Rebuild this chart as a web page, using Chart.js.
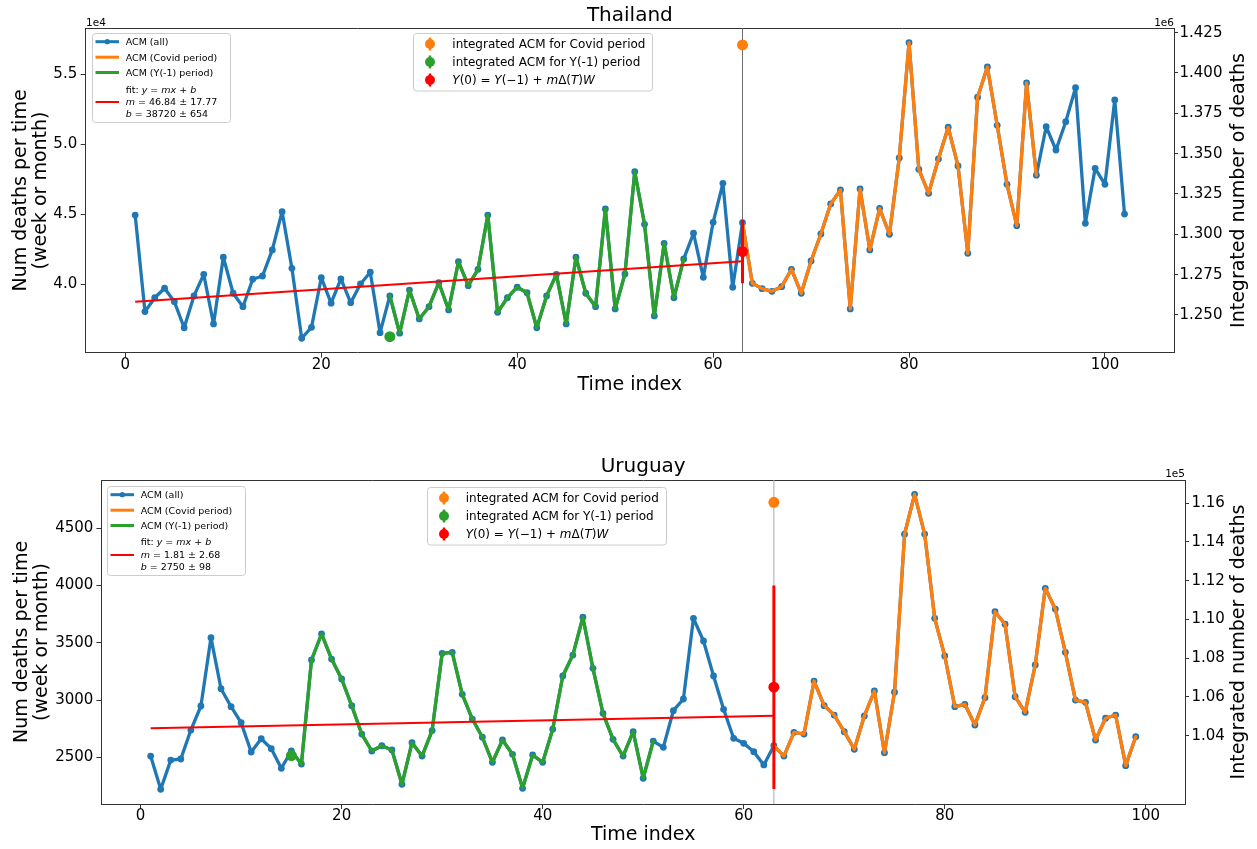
<!DOCTYPE html>
<html><head><meta charset="utf-8">
<script src="https://cdn.jsdelivr.net/npm/chart.js"></script>
<style>
html,body{margin:0;padding:0;background:#fff;}
body{width:1257px;height:849px;position:relative;overflow:hidden;font-family:"DejaVu Sans",sans-serif;}
canvas{position:absolute;left:0;}
.leg{position:absolute;z-index:5;}
.leg .t{position:absolute;white-space:nowrap;color:#000;}
.off{position:absolute;z-index:5;font-size:10.5px;line-height:12px;color:#000;white-space:nowrap;}
</style></head><body>
<canvas id="c1" width="1257" height="420" style="top:0px"></canvas>
<canvas id="c2" width="1257" height="429" style="top:420px"></canvas>
<script>
// ---------------- DATA ----------------
const xTicks = [0, 20, 40, 60, 80, 100];

// Thailand
const thaiTime = [1,2,3,4,5,6,7,8,9,10,11,12,13,14,15,16,17,18,19,20,21,22,23,24,25,26,27,28,29,30,31,32,33,34,35,36,37,38,39,40,41,42,43,44,45,46,47,48,49,50,51,52,53,54,55,56,57,58,59,60,61,62,63,64,65,66,67,68,69,70,71,72,73,74,75,76,77,78,79,80,81,82,83,84,85,86,87,88,89,90,91,92,93,94,95,96,97,98,99,100,101,102];
const thaiAcm = [44940,38050,39040,39720,38760,36900,39170,40710,37170,41930,39360,38400,40360,40590,42450,45180,41140,36150,36930,40470,38650,40380,38690,40020,40860,36550,39170,36510,39590,37530,38400,40110,38170,41610,39900,41070,44940,38000,39040,39790,39400,36900,39170,40710,37170,41930,39360,38400,45370,38240,40740,48030,44280,37740,42920,39040,41810,43640,40500,44420,47200,39790,44390,40070,39690,39500,39830,41070,39360,41660,43590,45730,46730,38240,46800,42450,45420,43570,49010,57230,48200,46490,48940,51200,48440,42210,53340,55500,51340,47130,44180,54360,47780,51240,49580,51600,54020,44350,48270,47130,53150,45010];
const thaiPriorPeriod = [27, 57];
const thaiCovidPeriod = [63, 93];
const thaiFitX = [1, 63];
const thaiFitY = [38760, 41650];
const thaiLeftTicks = [40000, 45000, 50000, 55000];
const thaiRightTicks = [1250000, 1275000, 1300000, 1325000, 1350000, 1375000, 1400000, 1425000];
const thaiIntCovid = [63, 1417400];
const thaiIntPrior = [27, 1236500];
const thaiY0 = [63, 1289300];
const thaiY0Err = [1269700, 1308900];

// Uruguay
const uruTime = [1,2,3,4,5,6,7,8,9,10,11,12,13,14,15,16,17,18,19,20,21,22,23,24,25,26,27,28,29,30,31,32,33,34,35,36,37,38,39,40,41,42,43,44,45,46,47,48,49,50,51,52,53,54,55,56,57,58,59,60,61,62,63,64,65,66,67,68,69,70,71,72,73,74,75,76,77,78,79,80,81,82,83,84,85,86,87,88,89,90,91,92,93,94,95,96,97,98,99];
const uruAcm = [2511,2220,2476,2485,2738,2948,3545,3099,2942,2802,2546,2662,2575,2404,2555,2441,3350,3577,3358,3184,2951,2703,2555,2601,2564,2264,2628,2511,2733,3408,3417,3050,2834,2675,2456,2651,2526,2229,2520,2456,2745,3210,3393,3723,3277,2884,2657,2511,2724,2317,2642,2587,2907,3009,3714,3516,3210,2919,2666,2622,2549,2433,2601,2511,2718,2703,3166,2951,2869,2724,2570,2861,3079,2540,3068,4448,4797,4450,3714,3385,2942,2963,2782,3021,3772,3662,3029,2893,3306,3976,3795,3417,3000,2980,2651,2841,2869,2427,2680];
const uruPriorPeriod = [15, 51];
const uruCovidPeriod = [63, 99];
const uruFitX = [1, 63];
const uruFitY = [2753, 2863];
const uruLeftTicks = [2500, 3000, 3500, 4000, 4500];
const uruRightTicks = [104000, 106000, 108000, 110000, 112000, 114000, 116000];
const uruIntCovid = [63, 116050];
const uruIntPrior = [15, 102970];
const uruIntPriorErr = [102710, 103230];
const uruY0 = [63, 106500];
const uruY0Err = [101250, 111750];

// ---------------- STYLE ----------------
const FONT = 'DejaVu Sans';
const BLUE = '#1f77b4', ORANGE = '#ff7f0e', GREEN = '#2ca02c', RED = '#ff0000';
Chart.defaults.font.family = FONT;
Chart.defaults.color = '#000';

function series(xs, ys) { return xs.map((x, i) => ({x: x, y: ys[i]})); }
function period(xs, ys, r) {
  const out = [];
  xs.forEach((x, i) => { if (x >= r[0] && x <= r[1]) out.push({x: x, y: ys[i]}); });
  return out;
}
function setTicks(vals) { return s => { s.ticks = vals.map(v => ({value: v})); }; }

// right-axis title drawn bottom-to-top (as matplotlib does)
const rightTitlePlugin = {
  id: 'rightTitle',
  afterDraw(chart, args, opts) {
    const s = chart.scales.y2;
    if (!s || !opts.text) return;
    const ctx = chart.ctx;
    ctx.save();
    ctx.translate(s.right - opts.offset, (s.top + s.bottom) / 2);
    ctx.rotate(-Math.PI / 2);
    ctx.font = `${opts.size}px "${FONT}"`;
    ctx.fillStyle = '#000';
    ctx.textAlign = 'center';
    ctx.textBaseline = 'middle';
    ctx.fillText(opts.text, 0, 0);
    ctx.restore();
  }
};

function makeChart(id, c) {
  const canvas = document.getElementById(id);
  const W = canvas.width, H = canvas.height;
  const tickFont = {family: FONT, size: 15, lineHeight: 1};
  const labFont = {family: FONT, size: 19, lineHeight: 1.05};
  const axisCol = '#333';
  const lineStyle = {borderJoinStyle: 'round', borderCapStyle: 'round'};
  const datasets = [
    Object.assign({label: 'ACM (all)', data: series(c.time, c.acm), yAxisID: 'y', borderColor: BLUE, backgroundColor: BLUE,
     borderWidth: 3.3, pointRadius: 3.4, pointBorderWidth: 0, pointBackgroundColor: BLUE, order: 10}, lineStyle),
    Object.assign({label: 'ACM (Y(-1) period)', data: period(c.time, c.acm, c.prior), yAxisID: 'y', borderColor: GREEN,
     borderWidth: 3.3, pointRadius: 0, order: 8}, lineStyle),
    Object.assign({label: 'ACM (Covid period)', data: period(c.time, c.acm, c.covid), yAxisID: 'y', borderColor: ORANGE,
     borderWidth: 3.3, pointRadius: 0, order: 8}, lineStyle),
    {label: 'fit', data: series(c.fitX, c.fitY), yAxisID: 'y', borderColor: RED, borderWidth: 2, pointRadius: 0, order: 7},
    {label: 'start', data: [{x: c.covid[0], y: c.yMin}, {x: c.covid[0], y: c.yMax}], yAxisID: 'y',
     borderColor: c.vlineColor, borderWidth: 1, pointRadius: 0, order: 11},
    {label: 'integrated ACM for Covid period', data: [{x: c.intCovid[0], y: c.intCovid[1]}], yAxisID: 'y2', showLine: false,
     pointRadius: 5.5, pointBorderWidth: 0, pointBackgroundColor: ORANGE, borderColor: ORANGE, backgroundColor: ORANGE, order: 3},
    {label: 'integrated ACM for Y(-1) period', data: [{x: c.intPrior[0], y: c.intPrior[1]}], yAxisID: 'y2', showLine: false,
     pointRadius: 5.5, pointBorderWidth: 0, pointBackgroundColor: GREEN, borderColor: GREEN, backgroundColor: GREEN, order: 3},
    {label: 'Y0 err', data: [{x: c.y0[0], y: c.y0Err[0]}, {x: c.y0[0], y: c.y0Err[1]}], yAxisID: 'y2',
     borderColor: RED, borderWidth: 3, pointRadius: 0, order: 2},
    {label: 'Y(0)', data: [{x: c.y0[0], y: c.y0[1]}], yAxisID: 'y2', showLine: false,
     pointRadius: 5.5, pointBorderWidth: 0, pointBackgroundColor: RED, borderColor: RED, backgroundColor: RED, order: 1}
  ];
  if (c.priorErr) {
    datasets.push({label: 'prior err', data: [{x: c.intPrior[0], y: c.priorErr[0]}, {x: c.intPrior[0], y: c.priorErr[1]}],
      yAxisID: 'y2', borderColor: GREEN, borderWidth: 2.5, pointRadius: 0, order: 3});
  }
  return new Chart(canvas, {
    type: 'line',
    data: {datasets: datasets},
    plugins: [rightTitlePlugin],
    options: {
      responsive: false, animation: false, events: [],
      layout: {padding: 0},
      elements: {line: {tension: 0}},
      plugins: {
        legend: {display: false}, tooltip: {enabled: false},
        title: {display: true, text: c.title, fullSize: false, color: '#000',
                font: {family: FONT, size: 20, weight: 'normal', lineHeight: 1.2},
                padding: {top: c.titlePadTop, bottom: c.plot.top - 24 - c.titlePadTop}},
        rightTitle: {text: 'Integrated number of deaths', size: 19, offset: 17.5}
      },
      scales: {
        x: {type: 'linear', position: 'bottom', min: c.xMin, max: c.xMax,
            afterBuildTicks: setTicks(xTicks),
            ticks: {font: tickFont, color: '#000', padding: c.xTickPad, maxRotation: 0, autoSkip: false, callback: v => String(v)},
            grid: {display: true, drawOnChartArea: false, drawTicks: true, tickLength: 5, color: axisCol, tickWidth: 1},
            border: {display: true, color: axisCol, width: 1},
            title: {display: true, text: 'Time index', font: labFont, color: '#000', padding: {top: 0, bottom: c.xTitlePad}},
            afterFit: s => { s.height = H - c.plot.bottom; }},
        xTop: {type: 'linear', position: 'top', min: c.xMin, max: c.xMax,
            ticks: {display: false},
            grid: {display: true, drawOnChartArea: false, drawTicks: false},
            border: {display: true, color: axisCol, width: 1},
            afterFit: s => { s.height = 0; }},
        y: {type: 'linear', position: 'left', min: c.yMin, max: c.yMax,
            afterBuildTicks: setTicks(c.leftTicks),
            ticks: {font: tickFont, color: '#000', padding: c.yTickPad, autoSkip: false, callback: c.leftFmt},
            grid: {display: true, drawOnChartArea: false, drawTicks: true, tickLength: 5, color: axisCol},
            border: {display: true, color: axisCol, width: 1},
            title: {display: true, text: ['Num deaths per time', '(week or month)'], font: labFont, color: '#000',
                    padding: {top: c.yTitlePad, bottom: 0}},
            afterFit: s => { s.width = c.plot.left; }},
        y2: {type: 'linear', position: 'right', min: c.y2Min, max: c.y2Max,
            afterBuildTicks: setTicks(c.rightTicks),
            ticks: {font: tickFont, color: '#000', padding: c.y2TickPad, autoSkip: false, callback: c.rightFmt},
            grid: {display: true, drawOnChartArea: false, drawTicks: true, tickLength: 4, color: axisCol},
            border: {display: true, color: axisCol, width: 1},
            title: {display: false},
            afterFit: s => { s.width = W - c.plot.right; }}
      }
    }
  });
}

makeChart('c1', {
  title: 'Thailand', time: thaiTime, acm: thaiAcm, prior: thaiPriorPeriod, covid: thaiCovidPeriod,
  fitX: thaiFitX, fitY: thaiFitY, intCovid: thaiIntCovid, intPrior: thaiIntPrior, y0: thaiY0, y0Err: thaiY0Err,
  xMin: -4.05, xMax: 107.05, yMin: 35120, yMax: 58260, y2Min: 1226600, y2Max: 1427700,
  leftTicks: thaiLeftTicks, rightTicks: thaiRightTicks,
  leftFmt: v => (v / 1e4).toFixed(1), rightFmt: v => (v / 1e6).toFixed(3),
  plot: {left: 85.7, right: 1174, top: 28.3, bottom: 352.7},
  titlePadTop: 3.5, xTickPad: 0, xTitlePad: 25, yTickPad: 3.5, y2TickPad: 1.5, yTitlePad: 11,
  vlineColor: '#6e6e6e'
});
makeChart('c2', {
  title: 'Uruguay', time: uruTime, acm: uruAcm, prior: uruPriorPeriod, covid: uruCovidPeriod,
  fitX: uruFitX, fitY: uruFitY, intCovid: uruIntCovid, intPrior: uruIntPrior, priorErr: uruIntPriorErr,
  y0: uruY0, y0Err: uruY0Err,
  xMin: -3.9, xMax: 103.9, yMin: 2092, yMax: 4922, y2Min: 100470, y2Max: 117200,
  leftTicks: uruLeftTicks, rightTicks: uruRightTicks,
  leftFmt: v => String(v), rightFmt: v => (v / 1e5).toFixed(2),
  plot: {left: 101.4, right: 1185, top: 60, bottom: 384},
  titlePadTop: 35, xTickPad: 0, xTitlePad: 4, yTickPad: 3, y2TickPad: 2.5, yTitlePad: 12.5,
  vlineColor: '#a8a8a8'
});

// ---------------- LEGENDS (HTML) ----------------
const NS = 'http://www.w3.org/2000/svg';
function el(tag, attrs, parent) {
  const e = document.createElementNS(NS, tag);
  for (const k in attrs) e.setAttribute(k, attrs[k]);
  parent.appendChild(e); return e;
}
function legendBox(spec) {
  const d = document.createElement('div');
  d.className = 'leg';
  d.style.cssText = `left:${spec.left}px;top:${spec.top}px;width:${spec.w}px;height:${spec.h}px;font-size:${spec.fs}px;`;
  const svg = el('svg', {width: spec.w, height: spec.h}, d);
  svg.style.cssText = 'position:absolute;left:0;top:0;';
  el('rect', {x: 0.5, y: 0.5, width: spec.w - 1, height: spec.h - 1, rx: 3, ry: 3,
              fill: '#fff', 'fill-opacity': 0.8, stroke: '#cccccc', 'stroke-width': 1}, svg);
  spec.items.forEach(it => {
    if (it.kind === 'line' || it.kind === 'linemarker') {
      el('line', {x1: spec.x0, x2: spec.x1, y1: it.cy, y2: it.cy, stroke: it.color, 'stroke-width': it.lw || 3}, svg);
      if (it.kind === 'linemarker') el('circle', {cx: (spec.x0 + spec.x1) / 2, cy: it.cy, r: 2.6, fill: it.color}, svg);
    } else if (it.kind === 'err') {
      el('line', {x1: spec.mx, x2: spec.mx, y1: it.cy - 6.5, y2: it.cy + 6.5, stroke: it.color, 'stroke-width': 2.5}, svg);
      el('circle', {cx: spec.mx, cy: it.cy, r: 5, fill: it.color}, svg);
    }
    it.text.forEach((t, k) => {
      const lh = spec.fs * 1.2;
      const s = document.createElement('div');
      s.className = 't';
      s.style.cssText = `left:${spec.tx}px;top:${it.ty[k] - lh / 2}px;line-height:${lh}px;`;
      s.innerHTML = t;
      d.appendChild(s);
    });
  });
  document.body.appendChild(d);
}
function leftLegend(left, top, fitM, fitB) {
  legendBox({left: left, top: top, w: 139, h: 90, fs: 9.5, x0: 3.5, x1: 27, tx: 34,
    items: [
      {kind: 'linemarker', color: BLUE, cy: 8.7, text: ['ACM (all)'], ty: [8.7]},
      {kind: 'line', color: ORANGE, cy: 24.2, text: ['ACM (Covid period)'], ty: [24.2]},
      {kind: 'line', color: GREEN, cy: 39.5, text: ['ACM (Y(-1) period)'], ty: [39.5]},
      {kind: 'line', color: RED, lw: 2, cy: 69, text: ['fit: <i>y</i> = <i>mx</i> + <i>b</i>',
        '<i>m</i> = ' + fitM, '<i>b</i> = ' + fitB], ty: [56, 68.4, 80.7]}
    ]});
}
function rightLegend(left, top) {
  legendBox({left: left, top: top, w: 240, h: 58.5, fs: 12, mx: 17, tx: 39,
    items: [
      {kind: 'err', color: ORANGE, cy: 11, text: ['integrated ACM for Covid period'], ty: [11]},
      {kind: 'err', color: GREEN, cy: 29, text: ['integrated ACM for Y(-1) period'], ty: [29]},
      {kind: 'err', color: RED, cy: 47, text: ['<i>Y</i>(0) = <i>Y</i>(\u22121) + <i>m</i>\u0394(<i>T</i>)<i>W</i>'], ty: [47]}
    ]});
}
leftLegend(91.7, 33.3, '46.84 \u00b1 17.77', '38720 \u00b1 654');
rightLegend(413.3, 33.3);
leftLegend(106.7, 486, '1.81 \u00b1 2.68', '2750 \u00b1 98');
rightLegend(426.7, 487.2);

// offset texts
function offText(txt, x, cy, alignRight) {
  const d = document.createElement('div');
  d.className = 'off';
  d.textContent = txt;
  d.style.top = (cy - 6) + 'px';
  if (alignRight) d.style.right = (1257 - x) + 'px'; else d.style.left = x + 'px';
  document.body.appendChild(d);
}
offText('1e4', 86, 22, false);
offText('1e6', 1174, 21.5, true);
offText('1e5', 1185, 473, true);
</script>
</body></html>
